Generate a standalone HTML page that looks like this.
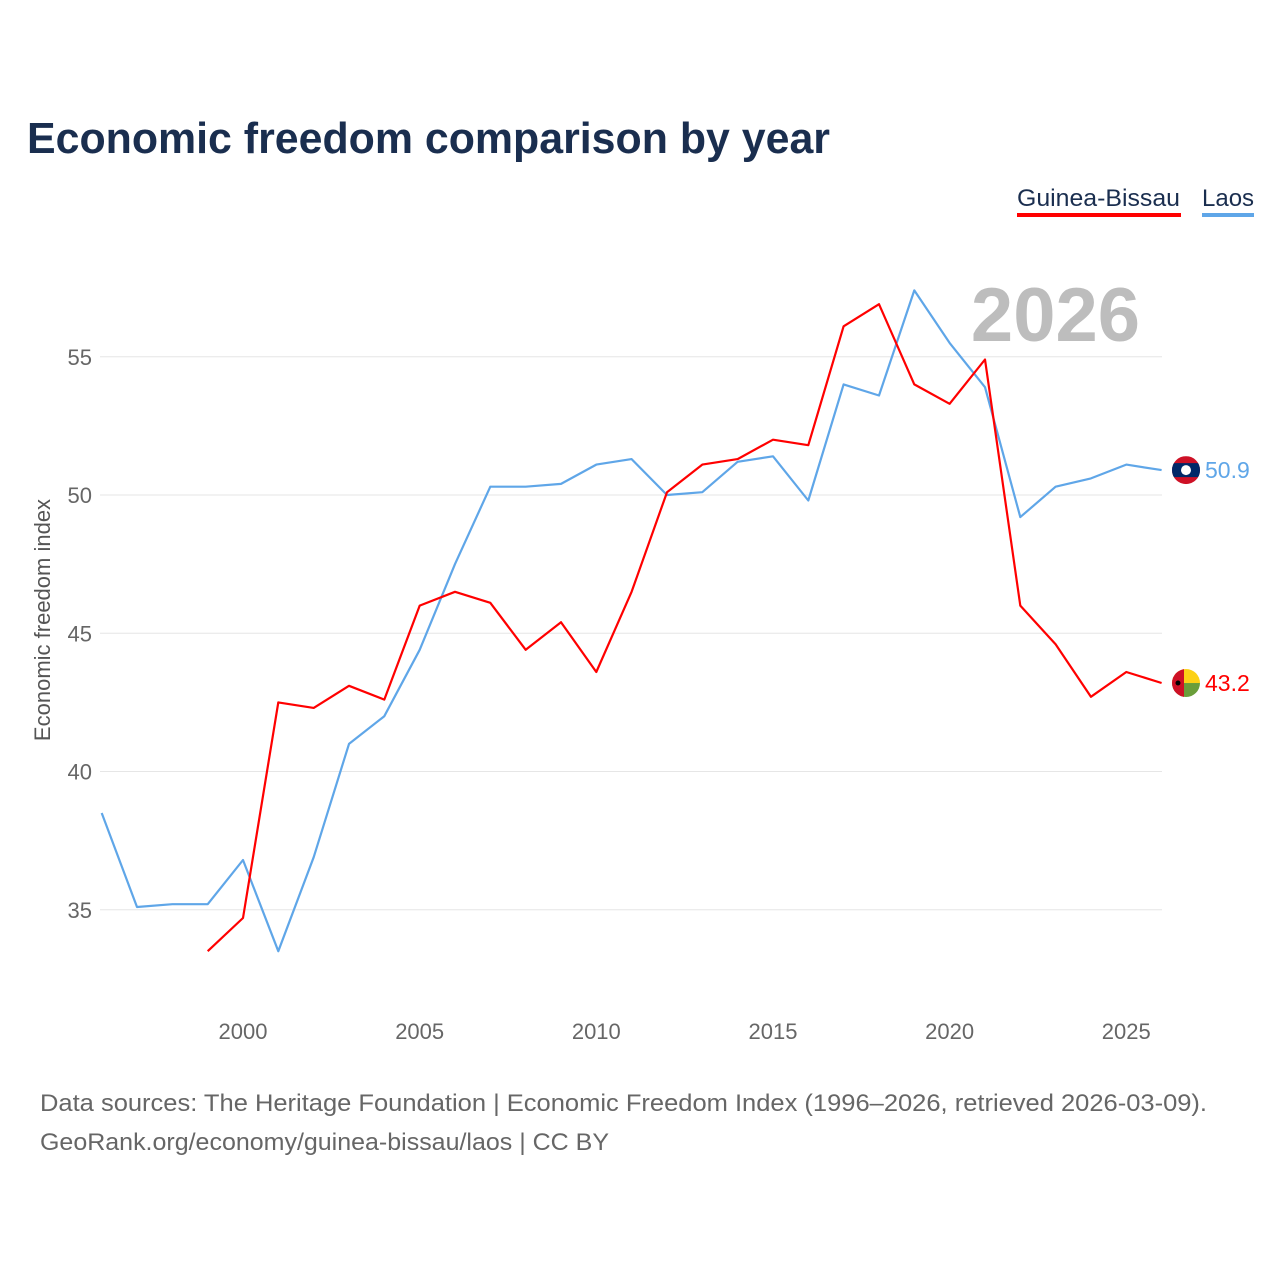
<!DOCTYPE html>
<html><head><meta charset="utf-8"><style>
body{margin:0;background:#fff;font-family:"Liberation Sans",sans-serif}
svg{display:block}
</style></head><body>
<svg width="1280" height="1280" id="c">
<text x="27" y="153" font-size="44" font-weight="bold" fill="#1a2e4f" textLength="803" lengthAdjust="spacingAndGlyphs">Economic freedom comparison by year</text>
<g><text x="1017" y="206" font-size="24" fill="#1a2e4f" textLength="163" lengthAdjust="spacingAndGlyphs">Guinea-Bissau</text><rect x="1017" y="213" width="164" height="4" fill="#f00"/></g>
<g><text x="1202" y="206" font-size="24" fill="#1a2e4f">Laos</text><rect x="1202" y="213" width="52" height="4" fill="#5fa6e8"/></g>
<text x="1140" y="341" font-size="76" font-weight="bold" fill="#bdbdbd" text-anchor="end">2026</text>
<text transform="translate(50,620) rotate(-90)" font-size="22" fill="#555" text-anchor="middle">Economic freedom index</text>
<g id="grid"></g><g id="lines"></g>
<text x="40" y="1111" font-size="24" fill="#666" textLength="1167" lengthAdjust="spacingAndGlyphs">Data sources: The Heritage Foundation | Economic Freedom Index (1996–2026, retrieved 2026-03-09).</text>
<text x="40" y="1150" font-size="24" fill="#666" textLength="569" lengthAdjust="spacingAndGlyphs">GeoRank.org/economy/guinea-bissau/laos | CC BY</text>
</svg>
<script>
const years=[];for(let y=1996;y<=2026;y++)years.push(y);
const laos=[38.5,35.1,35.2,35.2,36.8,33.5,36.9,41.0,42.0,44.4,47.5,50.3,50.3,50.4,51.1,51.3,50.0,50.1,51.2,51.4,49.8,54.0,53.6,57.4,55.5,53.9,49.2,50.3,50.6,51.1,50.9];
const gb=[null,null,null,33.5,34.7,42.5,42.3,43.1,42.6,46.0,46.5,46.1,44.4,45.4,43.6,46.5,50.1,51.1,51.3,52.0,51.8,56.1,56.9,54.0,53.3,54.9,46.0,44.6,42.7,43.6,43.2];
const yTicks=[35,40,45,50,55];
const xTicks=[2000,2005,2010,2015,2020,2025];
const NS="http://www.w3.org/2000/svg";
const X=y=>101.7+(y-1996)*35.33, Y=v=>495-(v-50)*27.65;
function mk(t,a,p){const e=document.createElementNS(NS,t);for(const k in a)e.setAttribute(k,a[k]);p.appendChild(e);return e;}
const g=document.getElementById('grid'),L=document.getElementById('lines');
yTicks.forEach(v=>{
 const l=mk('line',{x1:100,x2:1162,y1:Y(v),y2:Y(v),stroke:'#e6e6e6'},g);
 
 
 const t=mk('text',{x:92,y:Y(v)+8,'font-size':22,fill:'#666','text-anchor':'end'},g);t.textContent=v;
 
 
});
xTicks.forEach(v=>{
 const t=mk('text',{x:X(v),y:1039,'font-size':22,fill:'#666','text-anchor':'middle'},g);t.textContent=v;
 
 
});
function line(data,col,name){
 let d='';data.forEach((v,i)=>{if(v==null)return;d+=(d?'L':'M')+X(years[i]).toFixed(1)+','+Y(v).toFixed(1);});
 const p=mk('path',{d:d,fill:'none',stroke:col,'stroke-width':2.2,'stroke-linejoin':'round'},L);
 
 
 const last=data[data.length-1];
 const t=mk('text',{x:1205,y:Y(last)+8,'font-size':23,fill:col},L);t.textContent=last.toFixed(1);
 
 
 return Y(last);
}
const ly=line(laos,'#5fa6e8','laos');
const gy=line(gb,'#f00','guinea-bissau');
const f1=mk('g',{},L);


const cp1=mk('clipPath',{id:'c1'},f1);mk('circle',{cx:1186,cy:ly,r:14},cp1);
mk('rect',{x:1172,y:ly-14,width:28,height:28,fill:'#ce1126','clip-path':'url(#c1)'},f1);
mk('rect',{x:1172,y:ly-7,width:28,height:14,fill:'#002868','clip-path':'url(#c1)'},f1);
mk('circle',{cx:1186,cy:ly,r:5,fill:'#fff'},f1);
const f2=mk('g',{},L);


const cp=mk('clipPath',{id:'c2'},f2);mk('circle',{cx:1186,cy:gy,r:14},cp);
mk('rect',{x:1172,y:gy-14,width:28,height:14,fill:'#fcd116','clip-path':'url(#c2)'},f2);
mk('rect',{x:1172,y:gy,width:28,height:14,fill:'#6a9e3a','clip-path':'url(#c2)'},f2);
mk('rect',{x:1172,y:gy-14,width:12,height:28,fill:'#ce1126','clip-path':'url(#c2)'},f2);
mk('circle',{cx:1178,cy:gy,r:2.5,fill:'#000'},f2);
</script>
</body></html>
